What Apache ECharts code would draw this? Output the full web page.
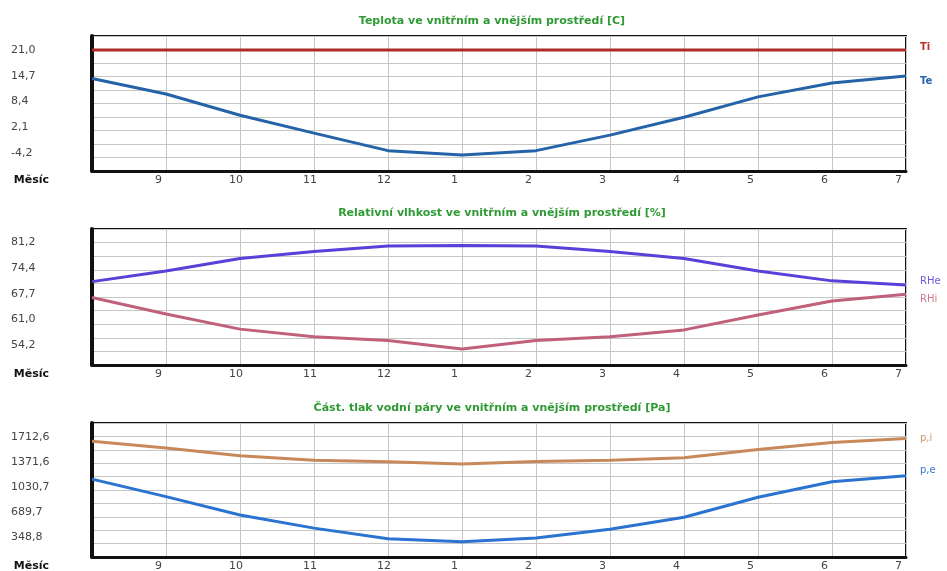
<!DOCTYPE html>
<html>
<head>
<meta charset="utf-8">
<script src="https://cdn.jsdelivr.net/npm/echarts@6/dist/echarts.min.js"></script>
<style>
  html, body { margin: 0; padding: 0; background: #fff; }
  #chart { width: 947px; height: 571px; }
</style>
</head>
<body>
<div id="chart"></div>
<script>
// Month positions along the season (8 = August ... 19 = July of the next year)
const monthPos = [8, 9, 10, 11, 12, 13, 14, 15, 16, 17, 18, 19];
const monthTickPos = [9, 10, 11, 12, 13, 14, 15, 16, 17, 18, 19];
const monthLabels = ['9', '10', '11', '12', '1', '2', '3', '4', '5', '6', '7'];

// Temperatures [°C]
const Ti = [21.0, 21.0, 21.0, 21.0, 21.0, 21.0, 21.0, 21.0, 21.0, 21.0, 21.0, 21.0];
const Te = [14.0, 10.2, 5.0, 0.6, -3.7, -4.8, -3.7, 0.1, 4.5, 9.5, 12.9, 14.6];

// Relative humidity [%]
const RHe = [70.9, 73.7, 77.0, 78.8, 80.3, 80.4, 80.3, 78.8, 77.0, 73.7, 71.1, 70.0];
const RHi = [66.7, 62.4, 58.4, 56.4, 55.4, 53.2, 55.4, 56.4, 58.2, 62.1, 65.8, 67.6];

// Partial water vapour pressure [Pa]
const pI = [1655, 1564, 1456, 1398, 1375, 1344, 1380, 1398, 1429, 1542, 1637, 1691];
const pE = [1141, 903, 655, 476, 332, 291, 341, 462, 624, 894, 1105, 1186];

// Y tick labels of each panel
const tempTicks = [21.0, 14.7, 8.4, 2.1, -4.2];
const rhTicks = [81.2, 74.4, 67.7, 61.0, 54.2];
const presTicks = [1712.6, 1371.6, 1030.7, 689.7, 348.8];

// Value extents of each panel
const tempRange = [-8.7, 24.44];
const rhRange = [48.96, 84.75];
const presRange = [84.5, 1901.6];

const titles = [
  'Teplota ve vnitřním a vnějším prostředí [C]',
  'Relativní vlhkost ve vnitřním a vnějším prostředí [%]',
  'Část. tlak vodní páry ve vnitřním a vnějším prostředí [Pa]'
];

const FONT = 'DejaVu Sans';
const panels = [
  { top: 36, height: 135, range: tempRange, ticks: tempTicks, titleX: 487, titleY: 18 },
  { top: 229, height: 136, range: rhRange, ticks: rhTicks, titleX: 497, titleY: 210 },
  { top: 423, height: 134, range: presRange, ticks: presTicks, titleX: 487, titleY: 405 }
];

const pairs = (arr) => arr.map((v, i) => [monthPos[i], v]);
const fmtComma = (v) => Number(v).toFixed(1).replace('.', ',');
const labelShift = 11 / 74.1; // month labels sit slightly left of the month lines

const grid = [], xAxis = [], yAxis = [], title = [];
panels.forEach((p, i) => {
  grid.push({
    left: 92, right: 41, top: p.top, height: p.height,
    containLabel: false, outerBoundsMode: 'none',
    show: true, backgroundColor: '#fff', borderColor: '#111', borderWidth: 2
  });
  // month lines + data axis
  xAxis.push({
    type: 'value', gridIndex: i, position: 'bottom',
    min: 8, max: 19, interval: 1,
    axisLine: { show: true, onZero: false, lineStyle: { color: '#111', width: 3 } },
    axisTick: { show: false },
    axisLabel: { show: false },
    splitLine: { show: true, lineStyle: { color: '#c6c6c6', width: 1 } }
  });
  // month labels
  xAxis.push({
    type: 'value', gridIndex: i, position: 'bottom',
    min: 8 + labelShift, max: 19 + labelShift,
    axisLine: { show: false, onZero: false }, axisTick: { show: false }, splitLine: { show: false },
    name: 'Měsíc', nameLocation: 'start', nameGap: 43,
    nameTextStyle: { fontFamily: FONT, fontSize: 11, fontWeight: 'bold', color: '#111',
      verticalAlign: 'top', padding: [4, 0, 0, 0] },
    axisLabel: {
      customValues: monthTickPos,
      formatter: (v) => monthLabels[monthTickPos.indexOf(Math.round(v))],
      align: 'left', margin: 4,
      fontFamily: FONT, fontSize: 11, color: '#444'
    }
  });
  // data axis with labels
  yAxis.push({
    type: 'value', gridIndex: i, position: 'left',
    min: p.range[0], max: p.range[1],
    axisLine: { show: true, onZero: false, lineStyle: { color: '#111', width: 4 } },
    axisTick: { show: false },
    splitLine: { show: false },
    axisLabel: {
      customValues: p.ticks, formatter: fmtComma,
      align: 'left', margin: 81,
      fontFamily: FONT, fontSize: 11, color: '#444'
    }
  });
  // horizontal grid lines (ten equal bands)
  yAxis.push({
    type: 'value', gridIndex: i, position: 'left',
    min: 0, max: 10, interval: 1,
    axisLine: { show: false, onZero: false }, axisTick: { show: false }, axisLabel: { show: false },
    splitLine: { show: true, lineStyle: { color: '#c6c6c6', width: 1 } }
  });
  title.push({
    text: titles[i], left: p.titleX, top: p.titleY - 7, textAlign: 'center',
    textStyle: { fontFamily: FONT, fontSize: 11, fontWeight: 'bold', color: '#2f9a34' }
  });
});

function lineSeries(name, data, panel, color, labelColor, dy, bold) {
  return {
    name, type: 'line', data: pairs(data),
    xAxisIndex: panel * 2, yAxisIndex: panel * 2,
    symbol: 'none', smooth: false, silent: true, animation: false,
    lineStyle: { color, width: 3 },
    endLabel: {
      show: true, formatter: name, distance: 14, offset: [0, dy],
      fontFamily: FONT, fontSize: 10, color: labelColor, fontWeight: bold ? 'bold' : 'normal'
    }
  };
}

const chart = echarts.init(document.getElementById('chart'), null, { renderer: 'canvas' });
chart.setOption({
  backgroundColor: '#fff',
  animation: false,
  title, grid, xAxis, yAxis,
  series: [
    lineSeries('Ti', Ti, 0, '#b02a2a', '#c0302a', -3, true),
    lineSeries('Te', Te, 0, '#2563a8', '#2a64b0', 5, true),
    lineSeries('RHe', RHe, 1, '#5b3fd8', '#6a5ae0', -4, false),
    lineSeries('RHi', RHi, 1, '#c0607a', '#d07a8e', 5, false),
    lineSeries('p,i', pI, 2, '#c8895a', '#d09868', 0, false),
    lineSeries('p,e', pE, 2, '#2b73d0', '#3a7ad0', -5, false)
  ]
});
</script>
</body>
</html>
